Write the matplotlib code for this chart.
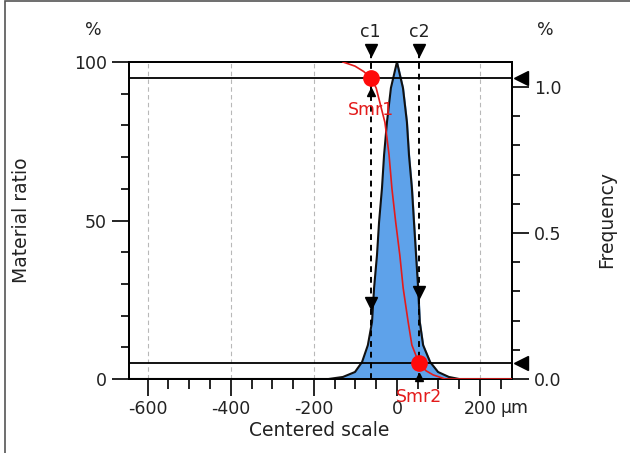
import matplotlib
matplotlib.use("Agg")
import matplotlib.pyplot as plt
import matplotlib.patches as mpatches
import numpy as np

# frequency distribution (height distribution), % per class
freq_x = [-645, -200, -165, -130, -101, -84, -70, -60, -55, -48, -43, -36, -31, -24,
          -14.5, 0, 14.5, 24, 29, 36, 41, 46, 51, 55, 63, 80, 99, 125, 150, 277]
freq_y = [0.0, 0.0, 0.0, 0.007, 0.024, 0.058, 0.116, 0.195, 0.312, 0.425, 0.538,
          0.654, 0.767, 0.88, 0.997, 1.086, 0.997, 0.88, 0.767, 0.654, 0.538, 0.425,
          0.312, 0.195, 0.116, 0.058, 0.024, 0.007, 0.0, 0.0]

# material ratio (Abbott-Firestone curve), %
mr_x = [-130, -101, -80, -63, -50, -29, -24, -19, -12, -3, 7, 15, 27, 36, 53, 70, 87, 116, 277]
mr_y = [100, 98.7, 97, 95, 91.8, 81, 76, 70.7, 60, 49.5, 39, 28.7, 18, 10.7, 5, 2.6, 1.3, 0, 0]

# thresholds
c1, c2 = -63, 53
smr1, smr2 = 95, 5

xticks = [-600, -400, -200, 0, 200]
xlabels = ["-600", "-400", "-200", "0", "200"]

txt = "#222222"
fs = 12.5
fl = 13.5

fig = plt.figure(figsize=(6.3, 4.53), dpi=100)
ax = fig.add_axes([129 / 630, 1 - 379 / 453, 383 / 630, 317 / 453])
ax2 = ax.twinx()
ax.set_zorder(ax2.get_zorder() + 1)
ax.patch.set_visible(False)

# frequency fill
ax2.fill_between(freq_x, freq_y, 0, color="#5ea2ea", zorder=2)
ax2.plot(freq_x, freq_y, color="#111111", lw=1.5, zorder=3)
ax2.set_ylim(0, 1.086)
ax2.set_yticks([0.0, 0.5, 1.0])
ax2.set_yticklabels(["0.0", "0.5", "1.0"])
ax2.set_yticks(np.arange(0, 1.05, 0.1), minor=True)
ax2.tick_params(axis="y", which="major", length=12, width=1.2, direction="out",
                labelsize=fs, labelcolor=txt, pad=4)
ax2.tick_params(axis="y", which="minor", length=6, width=1.2, direction="out")

# grid
for g in [-600, -400, -200, 200]:
    ax2.axvline(g, color="#b8b8b8", lw=0.8, ls=(0, (4, 3)), zorder=1)

# material ratio curve
ax.plot(mr_x, mr_y, color="#e31b1b", lw=1.2, zorder=4)
ax.axhline(smr1, color="black", lw=1.3, zorder=3)
ax.axhline(smr2, color="black", lw=1.3, zorder=3)

# c1 / c2 dashed lines
for c, ytri in [(c1, 24.0), (c2, 27.4)]:
    ax.plot([c, c], [0, 103], color="black", lw=1.4, ls=(0, (3, 2.5)),
            clip_on=False, zorder=5)
    ax.plot([c], [103.8], marker="v", color="black", ms=9, clip_on=False, zorder=6)
    ax.plot([c], [ytri], marker="v", color="black", ms=9, zorder=6)

ax.text(c1, 109.5, "c1", ha="center", va="center", fontsize=fs, color=txt)
ax.text(c2, 109.5, "c2", ha="center", va="center", fontsize=fs, color=txt)

# Smr markers
ax.plot([c1], [smr1], "o", color="#ff0a0a", ms=11, zorder=7)
ax.plot([c2], [smr2], "o", color="#ff0a0a", ms=11, zorder=7)
ax.plot([c1], [90.5], marker="^", color="black", ms=6, zorder=7)
ax.plot([c2], [0.6], marker="^", color="black", ms=6, zorder=7, clip_on=False)
ax.text(c1, 84.9, "Smr1", color="#e31b1b", fontsize=fs, ha="center", va="center", zorder=8)
ax.text(c2, -5.7, "Smr2", color="#e31b1b", fontsize=fs, ha="center", va="center", zorder=8)

# right-side pointers
for yv in [smr1, smr2]:
    ax.plot([1.024], [yv], marker="<", color="black", ms=10, clip_on=False,
            transform=ax.get_yaxis_transform(), zorder=6)

ax.set_xlim(-645, 277)
ax.set_ylim(0, 100)
ax.set_xticks(xticks)
ax.set_xticklabels(xlabels)
ax.set_xticks(np.arange(-600, 277, 50), minor=True)
ax.set_yticks([0, 50, 100])
ax.set_yticks(np.arange(0, 101, 10), minor=True)
ax.tick_params(axis="y", which="major", length=12, width=1.2, direction="out",
               labelsize=fs, labelcolor=txt, pad=4)
ax.tick_params(axis="y", which="minor", length=6, width=1.2, direction="out")
ax.tick_params(axis="x", which="major", length=12, width=1.2, direction="out",
               labelsize=fs, labelcolor=txt, pad=3)
ax.tick_params(axis="x", which="minor", length=7, width=1.2, direction="out")

ax.text(250, -0.093, "µm", transform=ax.get_xaxis_transform(), ha="left",
        va="center", fontsize=fs, color=txt)

for a in (ax, ax2):
    for s in a.spines.values():
        s.set_linewidth(1.3)
        s.set_color("black")

# labels
fig.text(93 / 630, 1 - 30 / 453, "%", ha="center", va="center", fontsize=fs, color=txt)
fig.text(545 / 630, 1 - 30 / 453, "%", ha="center", va="center", fontsize=fs, color=txt)
fig.text(22 / 630, 1 - 220 / 453, "Material ratio", rotation=90, ha="center",
         va="center", fontsize=fl, color=txt)
fig.text(607 / 630, 1 - 220 / 453, "Frequency", rotation=90, ha="center",
         va="center", fontsize=fl, color=txt)
fig.text(319 / 630, 1 - 430 / 453, "Centered scale", ha="center", va="center",
         fontsize=fl, color=txt)

# outer frame
fig.patches.append(mpatches.Rectangle((5 / 630, -0.1), 1.2, 1.1 - 1.5 / 453,
                                      transform=fig.transFigure, fill=False,
                                      edgecolor="#555555", lw=1.2))

fig.savefig("out.png", dpi=100)
